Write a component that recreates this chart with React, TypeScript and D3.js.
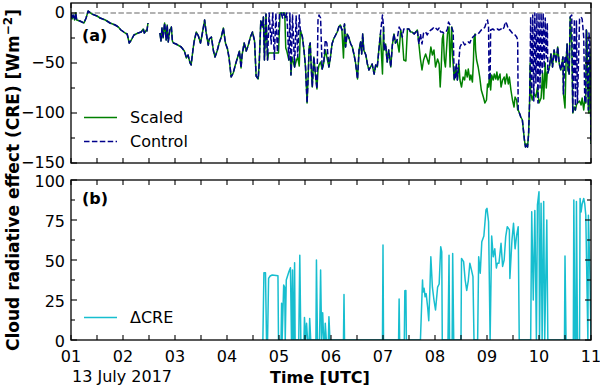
import React from "react";
import * as d3 from "d3";

type Pt = [number, number | null];

// hours (UTC) vs CRE [W m-2]; identical in both runs until ~04:40
const commonEarly: Pt[] = [
  [1.0, 0], [1.02, -6], [1.04, -2], [1.07, -7], [1.09, 0], [1.11, -7], [1.17, -8],
  [1.25, -10], [1.29, -5], [1.33, 2], [1.4, -1], [1.5, -3], [1.56, -5], [1.66, -7],
  [1.75, -10], [1.85, -12], [1.91, -14], [1.96, -17], [2.04, -20], [2.08, -21],
  [2.12, -30], [2.16, -27], [2.21, -22], [2.29, -20], [2.35, -19], [2.39, -16],
  [2.41, -20], [2.45, -17], [2.46, -18], [2.48, -10], [2.55, null],
  [2.71, -20], [2.73, -28], [2.75, -15], [2.77, -25], [2.8, -10], [2.83, -27],
  [2.85, -12], [2.87, -29], [2.9, -17], [2.93, -14], [2.95, -28], [2.97, -30],
  [3.02, -31], [3.12, -34], [3.18, -38], [3.22, -45], [3.25, -42], [3.29, -50],
  [3.31, -52], [3.35, -35], [3.37, -28], [3.41, -19], [3.45, -23], [3.49, -30],
  [3.52, -22], [3.57, -7], [3.6, -20], [3.64, -32], [3.66, -26], [3.7, -24],
  [3.74, -38], [3.77, -44], [3.81, -38], [3.85, -30], [3.89, -24], [3.93, -15],
  [3.97, -30], [4.01, -36], [4.04, -45], [4.08, -64], [4.12, -60], [4.16, -52],
  [4.2, -45], [4.24, -38], [4.27, -55], [4.29, -42], [4.33, -30], [4.37, -38],
  [4.41, -32], [4.45, -24], [4.49, -19], [4.53, -28], [4.56, -63], [4.6, -66],
  [4.62, -50], [4.65, -8], [4.68, -14],
];

const controlLate: Pt[] = [
  [4.7, -4], [4.72, -47], [4.75, -1], [4.78, -47], [4.81, 0], [4.85, -31], [4.88, 0],
  [4.91, -47], [4.94, 0], [4.97, -39], [5.01, 0], [5.04, 0], [5.07, -5], [5.09, 0],
  [5.12, -5], [5.15, 0], [5.19, -47], [5.21, 0], [5.23, -62], [5.26, -2], [5.3, -54],
  [5.33, -3], [5.36, -44], [5.39, -2], [5.41, -17], [5.45, -24], [5.48, -37],
  [5.51, -54], [5.54, -90], [5.56, -64], [5.58, -34], [5.6, -30], [5.62, -54],
  [5.64, -74], [5.67, -44], [5.7, -61], [5.73, -76], [5.75, -7], [5.77, -2],
  [5.8, -5], [5.83, -56], [5.86, -50], [5.89, -27], [5.92, -30], [5.96, -54],
  [5.99, -44], [6.02, -31], [6.05, -26], [6.09, -22], [6.12, -19], [6.15, -14],
  [6.18, -12], [6.21, -17], [6.24, -16], [6.26, -11], [6.28, -34], [6.31, -21],
  [6.34, -24], [6.38, -31], [6.41, -34], [6.44, -41], [6.47, -49], [6.51, -66],
  [6.54, -37], [6.57, -29], [6.59, -41], [6.61, -21], [6.63, -37], [6.67, -42],
  [6.7, -51], [6.73, -57], [6.76, -54], [6.79, -51], [6.83, -61], [6.86, -52],
  [6.89, -54], [6.92, -37], [6.95, -21], [6.99, -2], [7.01, -14], [7.02, -37],
  [7.05, -31], [7.08, -49], [7.11, -37], [7.15, -54], [7.18, -32], [7.21, -21],
  [7.24, -30], [7.27, -27], [7.31, -14], [7.34, -17], [7.37, -24], [7.4, -16],
  [7.44, -17], [7.47, -16], [7.5, -16], [7.53, -19], [7.56, -19], [7.6, -21],
  [7.63, -19], [7.66, -17], [7.69, -31], [7.72, -21], [7.75, -31], [7.78, -20],
  [7.82, -19], [7.85, -22], [7.88, -19], [7.92, -17], [7.95, -16], [7.98, -14],
  [8.01, -15], [8.05, -17], [8.08, -15], [8.11, -19], [8.14, -19], [8.17, -20],
  [8.21, -19], [8.24, -16], [8.26, -9], [8.29, -12], [8.32, -14], [8.35, -19],
  [8.37, -67], [8.39, -65], [8.41, -50], [8.43, -67], [8.46, -47], [8.48, -34],
  [8.51, -31], [8.54, -29], [8.57, -32], [8.61, -30], [8.64, -29], [8.67, -30],
  [8.7, -26], [8.73, -24], [8.77, -22], [8.8, -21], [8.83, -21], [8.86, -19],
  [8.89, -17], [8.93, -16], [8.96, -14], [8.99, -9], [9.01, -7], [9.03, -14],
  [9.04, -67], [9.06, -64], [9.07, -17], [9.11, -16], [9.14, -17], [9.17, -17],
  [9.2, -16], [9.23, -17], [9.27, -16], [9.3, -17], [9.33, -14], [9.35, -9],
  [9.38, -11], [9.41, -16], [9.44, -17], [9.47, -19], [9.5, -21], [9.54, -22],
  [9.57, -24], [9.59, -27], [9.6, -97], [9.63, -101], [9.65, -104], [9.68, -107],
  [9.72, -127], [9.74, -134], [9.76, -131], [9.78, -134], [9.8, -121], [9.82, -87],
  [9.83, -50], [9.84, -4], [9.86, -80], [9.88, -2], [9.9, -88], [9.92, 0],
  [9.94, -70], [9.96, 0], [9.98, -90], [10.0, 0], [10.02, -75], [10.04, 0],
  [10.06, -60], [10.08, 0], [10.1, -55], [10.12, -5], [10.14, -45], [10.16, -10],
  [10.17, -60], [10.2, -54], [10.23, -41], [10.26, -54], [10.29, -37], [10.33, -49],
  [10.36, -34], [10.39, -51], [10.42, -57], [10.46, -44], [10.47, -81], [10.5, -43],
  [10.52, -50], [10.54, -31], [10.56, -57], [10.58, -61], [10.6, -4], [10.63, -2],
  [10.65, -100], [10.68, -6], [10.7, -97], [10.72, -8], [10.74, -90], [10.78, -6],
  [10.81, -4], [10.83, -6], [10.86, -24], [10.88, -87], [10.9, -90], [10.91, -17],
  [10.95, -97], [10.96, -20], [10.98, -30], [11.0, -131],
];

const scaledLate: Pt[] = [
  [4.7, -4], [4.72, -47], [4.75, -1], [4.78, -47], [4.8, -40], [4.99, -40],
  [5.02, 0], [5.11, 0], [5.13, -35], [5.15, -38], [5.19, -47], [5.22, -44],
  [5.23, -62], [5.25, -44], [5.3, -54], [5.33, -48], [5.36, -44], [5.39, -53],
  [5.41, -17], [5.45, -24], [5.48, -37], [5.51, -54], [5.54, -90], [5.56, -64],
  [5.58, -34], [5.6, -30], [5.62, -54], [5.64, -74], [5.67, -44], [5.7, -61],
  [5.73, -76], [5.75, -57], [5.77, -52], [5.8, -49], [5.83, -56], [5.86, -50],
  [5.89, -37], [5.92, -44], [5.96, -54], [5.99, -44], [6.02, -31], [6.05, -26],
  [6.09, -22], [6.12, -19], [6.15, -14], [6.18, -12], [6.21, -17], [6.24, -45],
  [6.26, -11], [6.28, -34], [6.31, -21], [6.34, -24], [6.38, -31], [6.41, -34],
  [6.44, -41], [6.47, -49], [6.51, -66], [6.54, -37], [6.57, -29], [6.59, -41],
  [6.61, -21], [6.63, -37], [6.67, -42], [6.7, -51], [6.73, -57], [6.76, -54],
  [6.79, -51], [6.83, -61], [6.86, -52], [6.89, -54], [6.92, -37], [6.95, -21],
  [6.99, -61], [7.01, -14], [7.02, -37], [7.05, -31], [7.08, -49], [7.11, -37],
  [7.15, -54], [7.18, -32], [7.21, -21], [7.24, -30], [7.27, -27], [7.31, -39],
  [7.34, -17], [7.37, -24], [7.4, -47], [7.44, -48], [7.47, -16], [7.5, -16],
  [7.53, -19], [7.56, -19], [7.6, -21], [7.63, -19], [7.66, -17], [7.69, -31],
  [7.72, -46], [7.75, -57], [7.78, -47], [7.82, -41], [7.85, -46], [7.88, -51],
  [7.92, -34], [7.95, -42], [7.98, -37], [8.01, -54], [8.05, -46], [8.08, -51],
  [8.1, -74], [8.12, -54], [8.14, -26], [8.16, -21], [8.18, -47], [8.2, -54],
  [8.24, -21], [8.27, -14], [8.29, -54], [8.32, -14], [8.34, -44], [8.37, -67],
  [8.4, -54], [8.43, -67], [8.46, -51], [8.48, -67], [8.51, -74], [8.54, -64],
  [8.57, -67], [8.59, -57], [8.62, -64], [8.64, -56], [8.67, -67], [8.69, -62],
  [8.72, -69], [8.74, -47], [8.75, -26], [8.77, -21], [8.78, -37], [8.8, -47],
  [8.83, -54], [8.86, -64], [8.89, -77], [8.93, -84], [8.96, -90], [8.99, -87],
  [9.01, -71], [9.03, -74], [9.05, -61], [9.07, -77], [9.09, -62], [9.12, -67],
  [9.14, -61], [9.17, -66], [9.19, -59], [9.21, -67], [9.25, -61], [9.27, -74],
  [9.3, -67], [9.33, -64], [9.35, -71], [9.38, -61], [9.41, -71], [9.43, -64],
  [9.46, -77], [9.49, -87], [9.52, -94], [9.54, -84], [9.57, -87], [9.59, -97],
  [9.6, -97], [9.63, -101], [9.65, -104], [9.68, -107], [9.72, -127], [9.74, -134],
  [9.76, -131], [9.78, -134], [9.8, -121], [9.82, -87], [9.83, -50], [9.84, -80],
  [9.87, -87], [9.9, -80], [9.94, -84], [9.97, -74], [10.0, -90], [10.04, -85],
  [10.07, -60], [10.09, -86], [10.12, -50], [10.14, -75], [10.16, -59], [10.17, -60],
  [10.2, -54], [10.23, -41], [10.26, -54], [10.29, -37], [10.33, -49], [10.36, -34],
  [10.39, -51], [10.42, -57], [10.46, -44], [10.47, -81], [10.5, -95], [10.52, -50],
  [10.54, -31], [10.56, -57], [10.58, -61], [10.6, -4], [10.63, -30], [10.65, -100],
  [10.68, -94], [10.7, -97], [10.72, -92], [10.74, -90], [10.78, -88], [10.81, -92],
  [10.83, -85], [10.86, -97], [10.88, -87], [10.9, -90], [10.91, -17], [10.92, -19],
  [10.95, -97], [10.96, -100], [10.98, -40], [11.0, -131],
];

// ΔCRE [W m-2]
const deltaCRE: Pt[] = [
  [4.69, 0], [4.71, 42], [4.74, 42], [4.76, 0], [4.78, 0], [4.8, 38.5], [4.83, 40],
  [4.87, 40.6], [4.98, 40.2], [4.99, 0], [5.04, 0], [5.05, 23], [5.06, 0], [5.09, 34.4],
  [5.11, 33], [5.12, 0], [5.14, 37.5], [5.19, 42.7], [5.22, 45.2], [5.24, 0],
  [5.26, 43.75], [5.27, 0], [5.28, 0], [5.3, 48.3], [5.31, 0], [5.38, 0], [5.4, 53],
  [5.42, 0], [5.48, 0], [5.49, 14], [5.51, 0], [5.53, 10.4], [5.55, 0], [5.58, 0],
  [5.59, 13.5], [5.61, 0], [5.71, 0], [5.72, 50], [5.74, 0], [5.78, 0], [5.8, 43.75],
  [5.82, 0], [5.84, 17], [5.86, 0], [5.88, 0], [5.89, 10.4], [5.91, 0], [5.95, 0],
  [5.96, 14.6], [5.98, 0], [6.24, 0], [6.25, 28.5], [6.26, 0], [6.99, 0], [7.0, 59.4],
  [7.01, 0], [7.3, 0], [7.31, 25.6], [7.32, 0], [7.41, 0], [7.42, 30.8], [7.44, 31],
  [7.45, 0], [7.72, 0], [7.76, 37.5], [7.77, 30], [7.79, 32.3], [7.81, 27], [7.83, 29],
  [7.86, 20], [7.88, 12], [7.9, 30], [7.92, 52], [7.95, 33], [7.98, 25], [8.01, 18.75],
  [8.05, 33], [8.08, 35], [8.11, 58.3], [8.13, 55], [8.14, 0], [8.25, 0], [8.27, 53],
  [8.28, 0], [8.33, 0], [8.34, 54], [8.36, 0], [8.5, 0], [8.51, 51], [8.55, 49],
  [8.58, 37.5], [8.61, 31], [8.64, 37], [8.67, 48], [8.7, 44], [8.73, 39.6], [8.75, 0],
  [8.82, 0], [8.84, 52], [8.87, 41.7], [8.9, 61.4], [8.94, 65], [8.98, 81.25],
  [9.0, 82.3], [9.03, 73.9], [9.06, 0], [9.09, 65], [9.12, 52], [9.15, 57], [9.18, 45],
  [9.2, 48], [9.23, 48], [9.27, 60.4], [9.3, 46], [9.33, 50], [9.36, 64.6], [9.39, 70.8],
  [9.43, 69], [9.44, 38.5], [9.48, 62.5], [9.51, 72.9], [9.54, 57], [9.57, 65.6],
  [9.6, 70.8], [9.62, 0], [9.84, 0], [9.86, 80.2], [9.89, 25], [9.92, 81], [9.95, 0],
  [9.97, 84.4], [10.0, 92.7], [10.01, 0], [10.04, 85.4], [10.06, 0], [10.09, 86.5],
  [10.11, 0], [10.15, 75], [10.17, 0], [10.49, 0], [10.5, 52.5], [10.52, 0], [10.66, 0],
  [10.67, 87.5], [10.69, 0], [10.71, 0], [10.72, 86.5], [10.74, 0], [10.78, 0],
  [10.79, 88.5], [10.81, 80], [10.83, 85], [10.86, 88.5], [10.88, 85], [10.9, 78],
  [10.94, 0], [10.95, 78], [10.98, 40], [11.0, 0],
];

const hourTicks = d3.range(1, 12);
const halfHourTicks = d3.range(1.5, 11, 1);
const topMajor = [-150, -100, -50, 0];
const topMinor = [-125, -75, -25];
const botMajor = [0, 25, 50, 75, 100];
const botMinor = [12.5, 37.5, 62.5, 87.5];

const controlCRE = [...commonEarly, ...controlLate];
const scaledCRE = [...commonEarly, ...scaledLate];

const FONT = "DejaVu Sans";
const W = 600;
const H = 386;
const left = 71;
const right = 591;

export default function App() {
  const x = d3.scaleLinear().domain([1, 11]).range([left, right]);
  const yTop = d3.scaleLinear().domain([-150, 10]).range([163, 3]);
  const yBot = d3.scaleLinear().domain([0, 100]).range([340, 180]);
  const fmt = d3.format("d");
  const hourFmt = d3.format("02d");

  const lineTop = d3
    .line<Pt>()
    .defined(d => d[1] !== null)
    .x(d => x(d[0]))
    .y(d => yTop(d[1] as number));
  const lineBot = d3
    .line<Pt>()
    .x(d => x(d[0]))
    .y(d => yBot(d[1] as number));

  // ticks on all four sides, pointing in
  const frameTicks = (
    y: d3.ScaleLinear<number, number>,
    major: number[],
    minor: number[],
    showX: boolean,
    labelDy: number
  ) => {
    const [y1, y0] = y.range();
    const items: React.ReactNode[] = [];
    hourTicks.concat(halfHourTicks).forEach((h, i) => {
      const len = 5;
      items.push(<line key={"xb" + i} x1={x(h)} x2={x(h)} y1={y1} y2={y1 - len} />);
      items.push(<line key={"xt" + i} x1={x(h)} x2={x(h)} y1={y0} y2={y0 + len} />);
    });
    major.concat(minor).forEach((v, i) => {
      const len = major.includes(v) ? 6 : 4;
      items.push(<line key={"yl" + i} x1={left} x2={left + len} y1={y(v)} y2={y(v)} />);
      items.push(<line key={"yr" + i} x1={right} x2={right - len} y1={y(v)} y2={y(v)} />);
    });
    return (
      <g>
        <g stroke="#000" strokeWidth={1.1}>{items}</g>
        <g fontFamily={FONT} fontSize={16} fill="#000" textAnchor="end">
          {major.map(v => (
            <text key={v} x={left - 6} y={y(v) + labelDy}>
              {fmt(v)}
            </text>
          ))}
        </g>
        {showX && (
          <g fontFamily={FONT} fontSize={16} fill="#000" textAnchor="middle">
            {hourTicks.map(h => (
              <text key={h} x={x(h)} y={362}>
                {hourFmt(h)}
              </text>
            ))}
          </g>
        )}
        <rect x={left} y={y0} width={right - left} height={y1 - y0} fill="none" stroke="#000" strokeWidth={1.3} />
      </g>
    );
  };

  return (
    <div style={{ position: "absolute", left: 0, top: 0 }}>
      <svg width={W} height={H} style={{ display: "block", background: "#fff" }}>
        <defs>
          <clipPath id="clipTop">
            <rect x={left} y={3} width={right - left} height={160} />
          </clipPath>
          <clipPath id="clipBot">
            <rect x={left} y={180} width={right - left} height={160} />
          </clipPath>
        </defs>

        {/* panel (a) */}
        <line x1={left} x2={right} y1={yTop(0)} y2={yTop(0)} stroke="#999" strokeWidth={1.3} strokeDasharray="5.5,2.4" />
        <g clipPath="url(#clipTop)" fill="none" strokeLinejoin="round">
          <path d={lineTop(scaledCRE) || ""} stroke="#008000" strokeWidth={1.5} />
          <path d={lineTop(controlCRE) || ""} stroke="#00008b" strokeWidth={1.5} strokeDasharray="5.5,2.4" />
        </g>
        {frameTicks(yTop, topMajor, topMinor, false, 5)}
        <text x={82} y={41} fontFamily={FONT} fontSize={16} fontWeight="bold">(a)</text>
        <line x1={84} x2={117} y1={117.5} y2={117.5} stroke="#008000" strokeWidth={1.5} />
        <text x={130} y={123} fontFamily={FONT} fontSize={16}>Scaled</text>
        <line x1={84} x2={117} y1={141.5} y2={141.5} stroke="#00008b" strokeWidth={1.5} strokeDasharray="5.5,2.4" />
        <text x={130} y={147} fontFamily={FONT} fontSize={16}>Control</text>

        {/* panel (b) */}
        <g clipPath="url(#clipBot)" fill="none" strokeLinejoin="round">
          <path d={lineBot(deltaCRE) || ""} stroke="#17becf" strokeWidth={1.5} />
        </g>
        {frameTicks(yBot, botMajor, botMinor, true, 6.5)}
        <text x={82} y={204} fontFamily={FONT} fontSize={16} fontWeight="bold">(b)</text>
        <line x1={84} x2={117} y1={317.5} y2={317.5} stroke="#17becf" strokeWidth={1.5} />
        <text x={130} y={323} fontFamily={FONT} fontSize={16}>ΔCRE</text>

        {/* axis titles */}
        <text x={72} y={382} fontFamily={FONT} fontSize={16}>13 July 2017</text>
        <text x={320} y={383} fontFamily={FONT} fontSize={16} fontWeight="bold" textAnchor="middle">
          Time [UTC]
        </text>
        <text
          transform="translate(19,180) rotate(-90)"
          fontFamily={FONT}
          fontSize={17}
          fontWeight="bold"
          textAnchor="middle"
        >
          Cloud radiative effect (CRE) [Wm
          <tspan dy={-7} fontSize={12}>−2</tspan>
          <tspan dy={7}>]</tspan>
        </text>
      </svg>
    </div>
  );
}
